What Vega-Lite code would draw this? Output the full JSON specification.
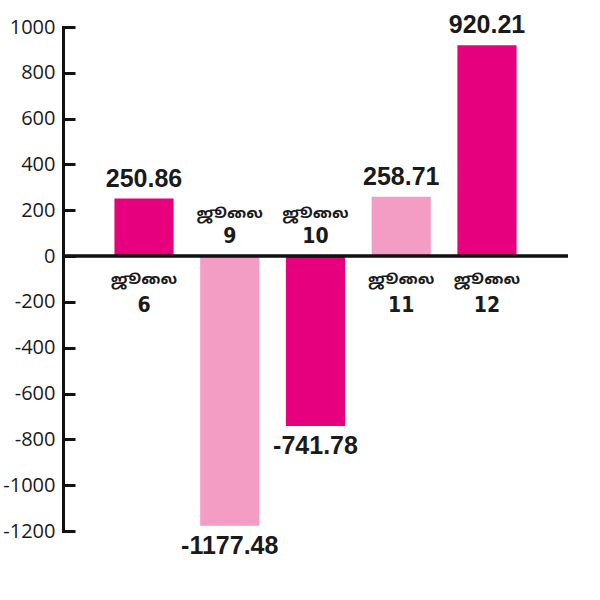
{
  "$schema": "https://vega.github.io/schema/vega-lite/v6.json",
  "autosize": "none",
  "width": 505,
  "height": 504,
  "padding": {"left": 63, "top": 27, "right": 32, "bottom": 69},
  "background": "white",
  "config": {"view": {"stroke": null}},
  "data": {
    "values": [
      {"date": "ஜூலை 6", "word": "ஜூலை", "day": "6", "value": 250.86, "label": "250.86"},
      {"date": "ஜூலை 9", "word": "ஜூலை", "day": "9", "value": -1177.48, "label": "-1177.48"},
      {"date": "ஜூலை 10", "word": "ஜூலை", "day": "10", "value": -741.78, "label": "-741.78"},
      {"date": "ஜூலை 11", "word": "ஜூலை", "day": "11", "value": 258.71, "label": "258.71"},
      {"date": "ஜூலை 12", "word": "ஜூலை", "day": "12", "value": 920.21, "label": "920.21"}
    ]
  },
  "encoding": {
    "x": {
      "field": "date", "type": "nominal", "sort": null, "axis": null,
      "scale": {"paddingInner": 0.31, "paddingOuter": 0.6}
    },
    "y": {
      "field": "value", "type": "quantitative",
      "scale": {"domain": [-1200, 1000], "nice": false, "zero": false},
      "axis": {
        "title": null, "grid": false,
        "values": [-1200, -1000, -800, -600, -400, -200, 0, 200, 400, 600, 800, 1000],
        "labelExpr": "datum.value + ''",
        "domainColor": "#111", "domainWidth": 3, "domainCap": "square",
        "tickColor": "#111", "tickWidth": 3, "tickSize": -12,
        "labelFont": "Open Sans", "labelFontSize": 20, "labelColor": "#1a1a1a",
        "labelPadding": 20
      }
    }
  },
  "layer": [
    {
      "mark": {"type": "bar"},
      "encoding": {
        "color": {
          "field": "date", "type": "nominal", "legend": null,
          "scale": {
            "domain": ["ஜூலை 6", "ஜூலை 9", "ஜூலை 10", "ஜூலை 11", "ஜூலை 12"],
            "range": ["#e6007e", "#f39dc4", "#e6007e", "#f39dc4", "#e6007e"]
          }
        }
      }
    },
    {
      "mark": {"type": "rule", "color": "#111", "strokeWidth": 2.5},
      "encoding": {"x": null, "y": {"datum": 0}}
    },
    {
      "transform": [{"filter": "datum.value >= 0"}],
      "mark": {"type": "text", "font": "Liberation Sans", "fontWeight": "bold", "fontSize": 25, "color": "#1a1a1a", "baseline": "alphabetic", "dy": -12},
      "encoding": {"text": {"field": "label"}}
    },
    {
      "transform": [{"filter": "datum.value < 0"}],
      "mark": {"type": "text", "font": "Liberation Sans", "fontWeight": "bold", "fontSize": 25, "color": "#1a1a1a", "baseline": "top", "dy": 8},
      "encoding": {"text": {"field": "label"}}
    },
    {
      "transform": [{"filter": "datum.value >= 0"}],
      "mark": {"type": "text", "font": "Noto Sans Tamil, Noto Sans, sans-serif", "fontWeight": "bold", "fontSize": 15, "color": "#1a1a1a", "baseline": "middle", "dy": 23},
      "encoding": {"y": {"datum": 0}, "text": {"field": "word"}}
    },
    {
      "transform": [{"filter": "datum.value >= 0"}],
      "mark": {"type": "text", "font": "DejaVu Sans Condensed, Liberation Sans, sans-serif", "fontWeight": "bold", "fontSize": 21, "color": "#1a1a1a", "baseline": "middle", "dy": 50},
      "encoding": {"y": {"datum": 0}, "text": {"field": "day"}}
    },
    {
      "transform": [{"filter": "datum.value < 0"}],
      "mark": {"type": "text", "font": "Noto Sans Tamil, Noto Sans, sans-serif", "fontWeight": "bold", "fontSize": 15, "color": "#1a1a1a", "baseline": "middle", "dy": -43},
      "encoding": {"y": {"datum": 0}, "text": {"field": "word"}}
    },
    {
      "transform": [{"filter": "datum.value < 0"}],
      "mark": {"type": "text", "font": "DejaVu Sans Condensed, Liberation Sans, sans-serif", "fontWeight": "bold", "fontSize": 21, "color": "#1a1a1a", "baseline": "middle", "dy": -19},
      "encoding": {"y": {"datum": 0}, "text": {"field": "day"}}
    }
  ]
}
